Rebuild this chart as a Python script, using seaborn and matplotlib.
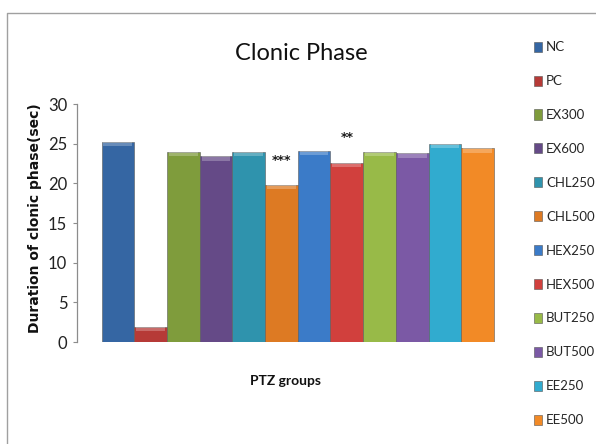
import matplotlib
matplotlib.use("Agg")
import matplotlib.pyplot as plt
from matplotlib.lines import Line2D
from matplotlib.patches import Rectangle
import seaborn as sns
import pandas as pd

groups = ["NC", "PC", "EX300", "EX600", "CHL250", "CHL500",
          "HEX250", "HEX500", "BUT250", "BUT500", "EE250", "EE500"]
durations = [25.2, 1.9, 24.0, 23.4, 24.0, 19.8,
             24.1, 22.6, 24.0, 23.8, 25.0, 24.4]
significance = ["", "", "", "", "", "***", "", "**", "", "", "", ""]
colors = ["#3566a3", "#b63a37", "#7f9c3c", "#654a87", "#2f93ad", "#dd7a23",
          "#3b7bc8", "#d1403d", "#98ba48", "#7b59a5", "#31abcf", "#f28a26"]

sns.set_theme(style="white")
plt.rcParams["font.family"] = ["Lato", "DejaVu Sans"]

W, H = 596, 444
fig = plt.figure(figsize=(W / 100, H / 100), dpi=100)
fig.patch.set_facecolor("white")

# plot area in pixel terms
left_px, right_px, top_px, bottom_px = 77, 518.5, 104, 342
ax = fig.add_axes([left_px / W, 1 - bottom_px / H,
                   (right_px - left_px) / W, (bottom_px - top_px) / H])

df = pd.DataFrame({"group": groups, "duration": durations})
sns.barplot(data=df, x="group", y="duration", hue="group", order=groups,
            hue_order=groups, palette=colors, width=1.0, legend=False,
            saturation=1, edgecolor="#5a5a5a", linewidth=0.4, ax=ax)

# bevel highlight along the top of each bar
for patch in ax.patches:
    x0, w = patch.get_x(), patch.get_width()
    h = patch.get_height()
    band = min(0.55, h * 0.3)
    ax.add_patch(Rectangle((x0 + 0.06, h - band), w - 0.12, band,
                           facecolor="white", alpha=0.25, linewidth=0, zorder=3))

# significance marks above bars
for i, (v, s) in enumerate(zip(durations, significance)):
    if s:
        ax.text(i, v + 2.3, s, ha="center", va="bottom", fontsize=9,
                fontweight="bold", color="#1a1a1a", family="DejaVu Sans")

ax.set_ylim(0, 30)
ax.set_yticks(range(0, 31, 5))
pad_units = (101.5 - left_px) * 12 / (494 - 101.5)
ax.set_xlim(-0.5 - pad_units, 11.5 + pad_units)
ax.set_xticks([])
ax.set_xlabel("")
ax.set_ylabel("")

for side in ["top", "right", "bottom"]:
    ax.spines[side].set_visible(False)
ax.spines["left"].set_color("#8c8c8c")
ax.spines["left"].set_linewidth(0.9)
ax.tick_params(axis="y", which="both", left=True, length=3, width=0.8,
               color="#8c8c8c", labelsize=12, labelcolor="#222222", pad=4)

fig.text(35 / W, 1 - 218 / H, "Duration of clonic phase(sec)", rotation=90,
         ha="center", va="center", fontsize=10, fontweight="bold",
         family="DejaVu Sans", color="#111111")
fig.text(301 / W, 1 - 54 / H, "Clonic Phase", ha="center", va="center",
         fontsize=17, color="#111111")
fig.text(286 / W, 1 - 381 / H, "PTZ groups", ha="center", va="center",
         fontsize=10, fontweight="bold", color="#111111")

# legend
handles = [Rectangle((0, 0), 1, 1, facecolor=c, edgecolor="#555555", linewidth=0.4)
           for c in colors]
fig.legend(handles, groups, loc="upper left",
           bbox_to_anchor=(529 / W, 1 - 36 / H), frameon=False,
           handlelength=0.6, handleheight=0.8, handletextpad=0.3,
           labelspacing=1.66, fontsize=9.5, borderaxespad=0)

# outer chart border
fig.add_artist(Line2D([7 / W, 7 / W, 1.0], [0.0, 1 - 13 / H, 1 - 13 / H],
                      transform=fig.transFigure, color="#a0a0a0", linewidth=1.0))

fig.savefig("out.png", dpi=100, facecolor="white")
